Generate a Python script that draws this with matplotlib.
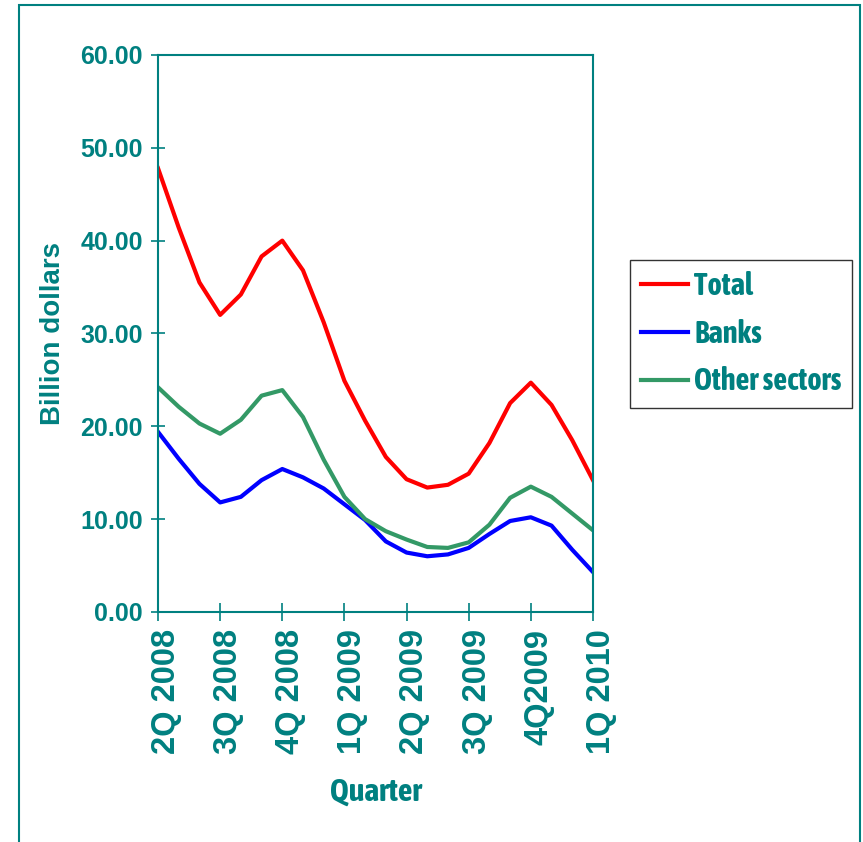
import matplotlib.pyplot as plt
from matplotlib.patches import Rectangle
from matplotlib.transforms import ScaledTranslation

# monthly readings, 2Q 2008 .. 1Q 2010
months = list(range(22))
quarter_ticks = [0, 3, 6, 9, 12, 15, 18, 21]
quarter_labels = ['2Q 2008', '3Q 2008', '4Q 2008', '1Q 2009',
                  '2Q 2009', '3Q 2009', '4Q2009', '1Q 2010']

total = [47.8, 41.4, 35.5, 32.0, 34.2, 38.3, 40.0, 36.8, 31.2, 24.9, 20.6,
         16.7, 14.3, 13.4, 13.7, 14.9, 18.2, 22.5, 24.7, 22.3, 18.5, 14.2]
banks = [19.4, 16.5, 13.8, 11.8, 12.4, 14.2, 15.4, 14.5, 13.3, 11.6, 9.9,
         7.6, 6.4, 6.0, 6.2, 6.9, 8.4, 9.8, 10.2, 9.3, 6.7, 4.3]
other = [24.2, 22.1, 20.3, 19.2, 20.7, 23.3, 23.9, 21.0, 16.4, 12.4, 10.0,
         8.7, 7.8, 7.0, 6.9, 7.5, 9.4, 12.3, 13.5, 12.4, 10.6, 8.8]

teal = '#008080'
narrow = ['Asap Condensed', 'Archivo Narrow', 'DejaVu Sans']
regular = ['Liberation Sans', 'DejaVu Sans']

fig = plt.figure(figsize=(8.63, 8.42), dpi=100)
ax = fig.add_axes([0.1831, 0.2732, 0.504, 0.6615])

ax.plot(months, total, color='#ff0000', lw=3, label='Total')
ax.plot(months, banks, color='#0000ff', lw=3, label='Banks')
ax.plot(months, other, color='#339966', lw=3, label='Other sectors')

ax.set_xlim(0, 21)
ax.set_ylim(0, 60)
ax.set_yticks(range(0, 61, 10))
ax.set_yticklabels([f'{v:.2f}' for v in range(0, 61, 10)],
                   family=regular, fontweight='bold', fontsize=18, color=teal)
ax.set_xticks(quarter_ticks)
ax.set_xticklabels(quarter_labels, rotation=90, family=regular,
                   fontweight='bold', fontsize=23.5, color=teal)

for sp in ax.spines.values():
    sp.set_color(teal)
    sp.set_linewidth(1.5)
ax.tick_params(axis='both', direction='inout', color=teal, width=1.2)
ax.tick_params(axis='y', length=10, pad=6)
ax.tick_params(axis='x', length=13, pad=6)

# nudge the rotated quarter labels a little to the right
nudge = ScaledTranslation(6 / 72, 0, fig.dpi_scale_trans)
for tick in ax.xaxis.get_major_ticks():
    tick.label1.set_transform(tick.label1.get_transform() + nudge)

ax.set_ylabel('Billion dollars', family=regular, fontweight='bold',
              fontsize=20, color=teal, labelpad=10)
ax.set_xlabel('Quarter', family=narrow, fontweight='bold',
              fontsize=23, color=teal, labelpad=16)

leg = fig.legend(loc='upper left', bbox_to_anchor=(0.730, 0.691),
                 borderaxespad=0, fancybox=False, frameon=True,
                 handlelength=1.55, handletextpad=0.2, labelspacing=0.55,
                 borderpad=0.35, prop={'family': narrow, 'weight': 'bold', 'size': 22})
leg.get_frame().set_edgecolor('black')
leg.get_frame().set_linewidth(1.0)
for t in leg.get_texts():
    t.set_color(teal)

# outer frame around the whole chart
fig.patches.append(Rectangle((0.022, -0.02), 0.9745, 1.014, transform=fig.transFigure,
                             fill=False, edgecolor=teal, lw=1.5, clip_on=False))

fig.savefig('out.png', dpi=100)
